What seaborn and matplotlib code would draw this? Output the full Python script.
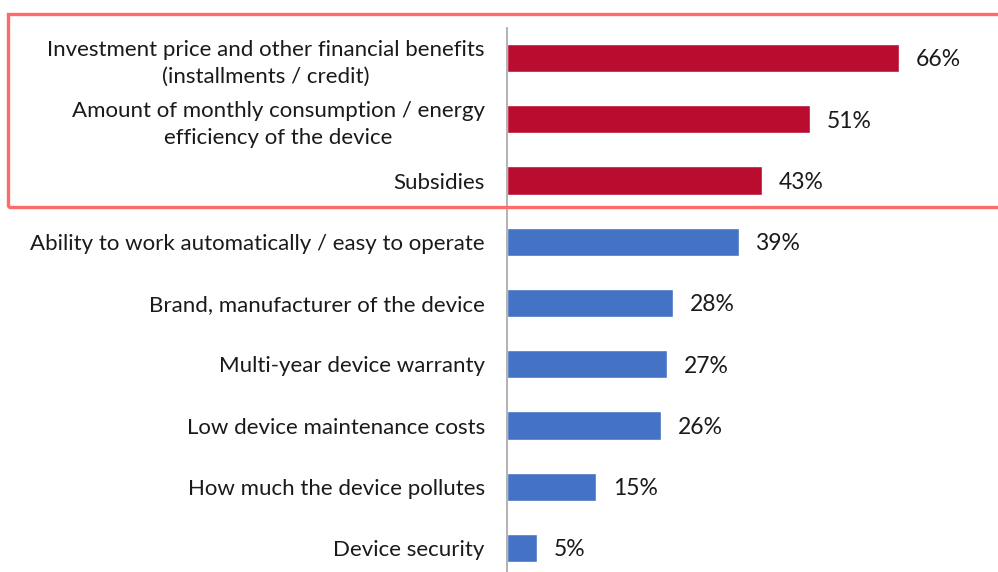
import matplotlib
matplotlib.use("Agg")
import matplotlib.pyplot as plt
from matplotlib.patches import Rectangle
import seaborn as sns
import pandas as pd

# Survey factors and share of respondents (%)
factors = [
    "Investment price and other financial benefits\n(installments / credit)",
    "Amount of monthly consumption / energy\nefficiency of the device",
    "Subsidies",
    "Ability to work automatically / easy to operate",
    "Brand, manufacturer of the device",
    "Multi-year device warranty",
    "Low device maintenance costs",
    "How much the device pollutes",
    "Device security",
]
shares = [66, 51, 43, 39, 28, 27, 26, 15, 5]
groups = ["top", "top", "top", "other", "other", "other", "other", "other", "other"]

palette = {"top": "#BA0C2F", "other": "#4472C4"}

df = pd.DataFrame({"factor": factors, "share": shares, "group": groups})

sns.set_theme(style="white")
plt.rcParams["font.family"] = ["Lato", "DejaVu Sans"]

W, H = 998, 572
fig = plt.figure(figsize=(W / 100, H / 100), dpi=100)
axis_x = 507
px_per_unit = 5.94
xmax = 80
ax = fig.add_axes([axis_x / W, 0, xmax * px_per_unit / W, (H - 28) / H])

sns.barplot(data=df, x="share", y="factor", hue="group", palette=palette,
            dodge=False, width=0.46, legend=False, ax=ax, saturation=1)

ax.set_xlim(0, xmax)
ax.set_ylim(8.39, -0.49)
ax.set_xlabel("")
ax.set_ylabel("")
ax.set_xticks([])
for side in ["top", "right", "bottom"]:
    ax.spines[side].set_visible(False)
ax.spines["left"].set_color("#A6A6A6")
ax.spines["left"].set_linewidth(1.2)
ax.tick_params(axis="y", length=0, pad=16, labelsize=16, labelcolor="#1a1a1a")
for lbl in ax.get_yticklabels():
    lbl.set_multialignment("center")
    lbl.set_linespacing(1.4)

for i, v in enumerate(shares):
    ax.text(v + 2.8, i + 0.03, f"{v}%", va="center", ha="left", fontsize=16.5, color="#1a1a1a")

# Highlight frame around the top three factors
fig.patches.append(Rectangle((8 / W, 1 - 207 / H), (W + 10 - 8) / W, (207 - 14) / H,
                             transform=fig.transFigure, fill=False,
                             edgecolor="#FF6B6B", linewidth=2.4, clip_on=False))

fig.savefig("out.png", dpi=100)
